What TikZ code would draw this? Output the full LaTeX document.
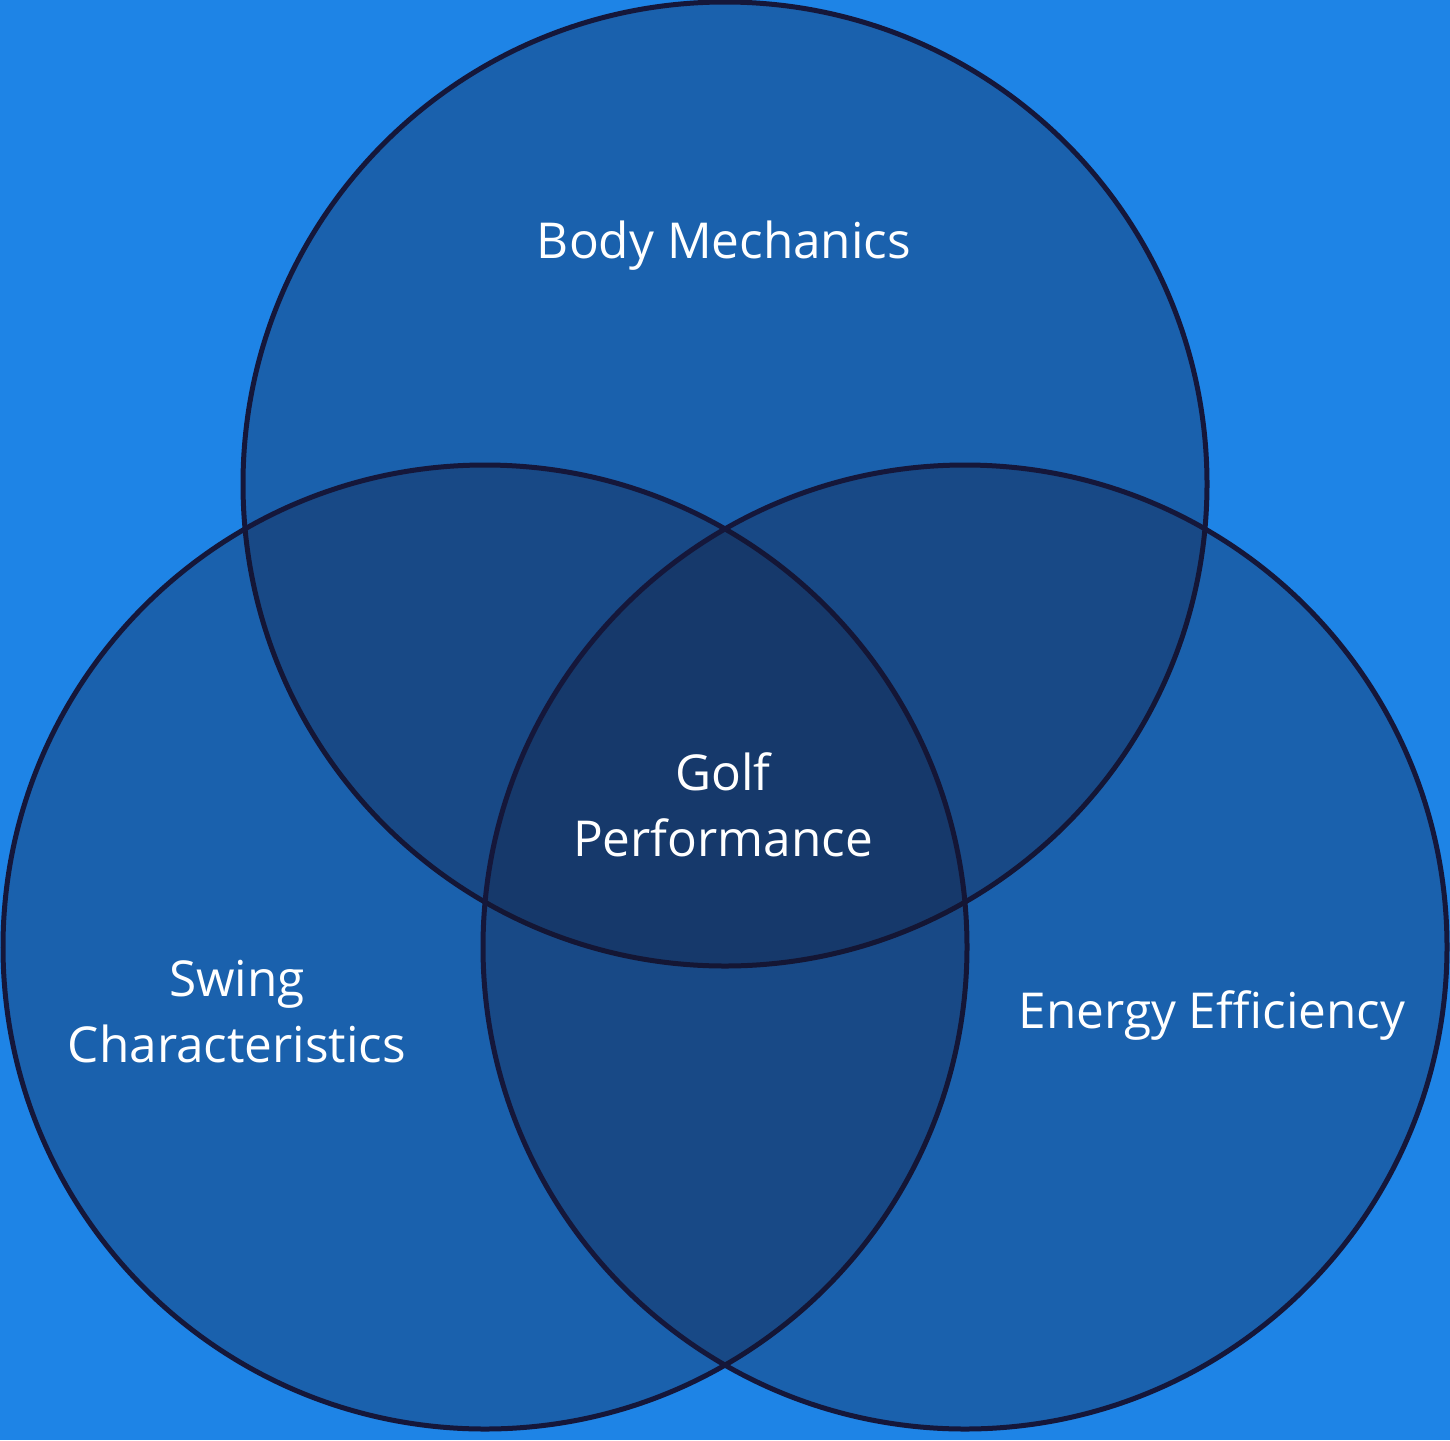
\documentclass[tikz,border=0pt]{standalone}
\usepackage{fontspec}
\setmainfont{Open Sans}
\begin{document}
\begin{tikzpicture}[x=1pt,y=-1pt]
\definecolor{bgblue}{HTML}{1E84E6}
\definecolor{ringdark}{HTML}{15173A}
\definecolor{setfill}{RGB}{20,22,48}
\tikzset{
  vset/.style={draw=ringdark, line width=5pt, fill=setfill, fill opacity=0.31, draw opacity=1},
  vlabel/.style={text=white, align=center, font=\fontsize{49.5}{66}\selectfont, inner sep=0pt}
}
\fill[bgblue] (0,0) rectangle (1450,1440);
\useasboundingbox (0,0) rectangle (1450,1440);
\path[vset] (725,484) circle[radius=482pt];
\path[vset] (485,947) circle[radius=482pt];
\path[vset] (965,947) circle[radius=482pt];
\node[vlabel] (body) at (724,246) {Body Mechanics};
\node[vlabel] (golf) at (723,805) {Golf\\Performance};
\node[vlabel] (swing) at (237,1012) {Swing\\Characteristics};
\node[vlabel] (energy) at (1212,1015) {Energy Efficiency};
\end{tikzpicture}
\end{document}
